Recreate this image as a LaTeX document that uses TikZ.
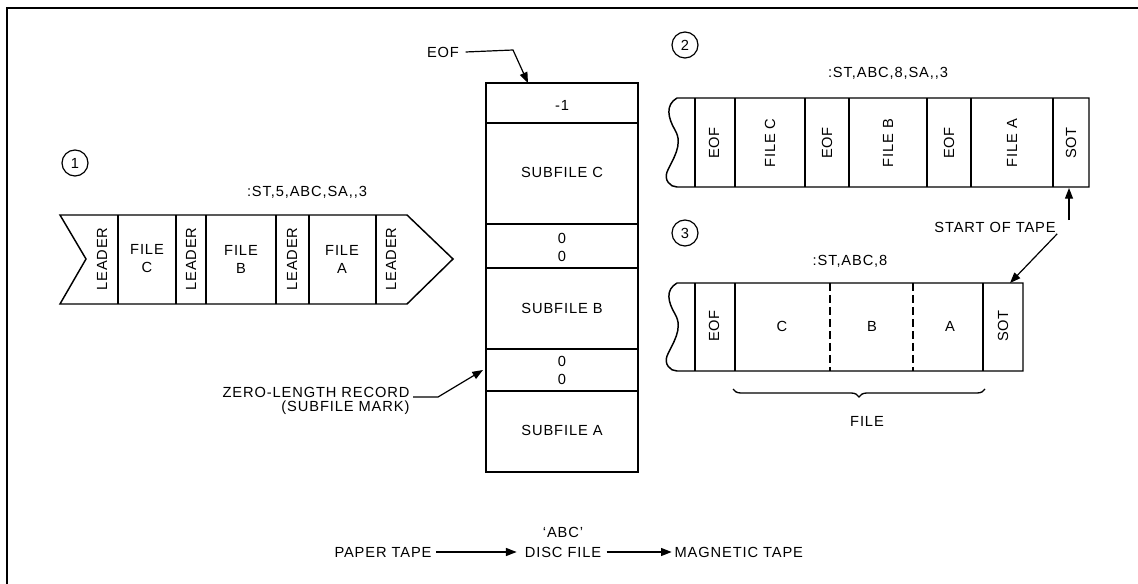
\documentclass[tikz,border=0pt]{standalone}
\usepackage{fontspec}
\setmainfont{Liberation Sans}[LetterSpace=6]
\usetikzlibrary{arrows.meta,decorations.pathreplacing}
\begin{document}
\begin{tikzpicture}
    [x=0.75pt,y=-0.75pt,
    lbl/.style={font=\fontsize{11}{13.5}\selectfont,inner sep=1pt,align=center},
    vlbl/.style={lbl,rotate=90},
    num/.style={draw,circle,line width=0.9pt,minimum size=19.5pt,inner sep=0pt,font=\fontsize{11}{12}\selectfont},
    box/.style={draw,line width=1.1pt},
    ptr/.style={-{Triangle[length=8pt,width=6pt]},line width=0.9pt}]
    \useasboundingbox (0,0) rectangle (1138,584);
    %frame
    \draw[line width=1.5pt] (7,584)--(7,8)--(1138,8);
    %paper tape
    \node[num] (n1) at (75,163) {1};
    \node[lbl] (cmd1) at (307,192) {:ST,5,ABC,SA,{},3};
    \draw[box] (60,215)--(407,215)--(453,259)--(407,304)--(60,304)--(86,259)--cycle;
    \foreach \x in {118,176,206,276,309,376}
        \draw[box] (\x,215)--(\x,304);
    \node[vlbl] (pld1) at (102,259) {LEADER};
    \node[lbl] (pfc) at (147,259) {FILE\\C};
    \node[vlbl] (pld2) at (191,259) {LEADER};
    \node[lbl] (pfb) at (241,259) {FILE\\B};
    \node[vlbl] (pld3) at (292,259) {LEADER};
    \node[lbl] (pfa) at (342,259) {FILE\\A};
    \node[vlbl] (pld4) at (391,259) {LEADER};
    %disc file
    \draw[box] (486,83) rectangle (638,472);
    \foreach \y in {123,224,268,349,391}
        \draw[box] (486,\y)--(638,\y);
    \node[lbl] (deof) at (562,105) {-1};
    \node[lbl] (dsc) at (562,172) {SUBFILE C};
    \node[lbl] (dm1) at (562,247) {0\\0};
    \node[lbl] (dsb) at (562,308) {SUBFILE B};
    \node[lbl] (dm2) at (562,370) {0\\0};
    \node[lbl] (dsa) at (562,430) {SUBFILE A};
    \coordinate (dtop) at (528,83);
    \coordinate (dmark) at (483,370);
    \node[lbl] (eof) at (443,52) {EOF};
    \draw[ptr] (eof.east)++(5,0)--(513,50)--(dtop);
    \node[lbl,anchor=east] (zlr1) at (411,392) {ZERO-LENGTH RECORD};
    \node[lbl,anchor=north east] (zlr2) at (zlr1.south east) {(SUBFILE MARK)};
    \draw[ptr] (zlr1.base east)++(2,0)--(438,397)--(dmark);
    %magnetic tape, stage 2
    \node[num] (n2) at (685,45) {2};
    \node[lbl] (cmd2) at (888,73) {:ST,ABC,8,SA,{},3};
    \draw[box] (677,98)--(1089,98)--(1089,187)--(677,187)
        .. controls (670,187) and (664,180) .. (667,172)
        .. controls (672,160) and (684,145) .. (675,130)
        .. controls (668,118) and (665,105) .. (677,98);
    \foreach \x in {695,735,805,849,927,971,1053}
        \draw[box] (\x,98)--(\x,187);
    \node[vlbl] (me1) at (714,143) {EOF};
    \node[vlbl] (mfc) at (770,143) {FILE C};
    \node[vlbl] (me2) at (827,143) {EOF};
    \node[vlbl] (mfb) at (888,143) {FILE B};
    \node[vlbl] (me3) at (949,143) {EOF};
    \node[vlbl] (mfa) at (1012,143) {FILE A};
    \node[vlbl] (ms1) at (1071,143) {SOT};
    \coordinate (t2sot) at (1069,188);
    %magnetic tape, stage 3
    \node[num] (n3) at (685,233) {3};
    \node[lbl] (cmd3) at (850,261) {:ST,ABC,8};
    \draw[box] (677,283)--(1023,283)--(1023,371)--(677,371)
        .. controls (670,371) and (664,364) .. (667,356)
        .. controls (672,344) and (684,329) .. (675,314)
        .. controls (668,302) and (665,290) .. (677,283);
    \foreach \x in {695,735,983}
        \draw[box] (\x,283)--(\x,371);
    \foreach \x in {830,913}
        \draw[box,dashed,dash pattern=on 6pt off 3pt] (\x,283)--(\x,371);
    \node[vlbl] (ne1) at (714,326) {EOF};
    \node[lbl] (nc) at (782,326) {C};
    \node[lbl] (nb) at (872,326) {B};
    \node[lbl] (na) at (950,326) {A};
    \node[vlbl] (ns1) at (1003,326) {SOT};
    \coordinate (t3sot) at (1010,283);
    \draw[line width=1pt,decorate,decoration={brace,mirror,amplitude=6pt}] (733,389)--(985,389);
    \node[lbl] (file) at (867,421) {FILE};
    %start of tape
    \node[lbl] (sot) at (995,227) {START OF TAPE};
    \draw[ptr] (t2sot |- sot.north)--(t2sot);
    \draw[ptr] (sot.south east)--(t3sot);
    %flow
    \node[lbl] (ptape) at (383,552) {PAPER TAPE};
    \node[lbl] (dfile) at (563,552) {DISC FILE};
    \node[lbl] (abc) at (563,532) {`ABC'};
    \node[lbl,anchor=west] (mtape) at (673,552) {MAGNETIC TAPE};
    \draw[ptr,shorten >=5pt] (ptape.east)++(3,0)--(dfile.west);
    \draw[ptr,shorten >=1pt] (dfile.east)++(4,0)--(mtape.west);
\end{tikzpicture}
\end{document}
